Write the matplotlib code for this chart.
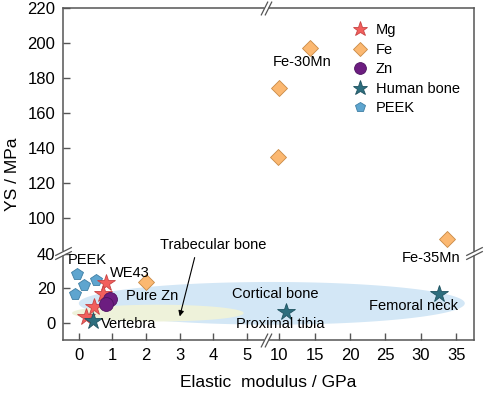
import numpy as np
import matplotlib
matplotlib.use('Agg')
import matplotlib.pyplot as plt
from matplotlib.transforms import offset_copy, blended_transform_factory

plt.rcParams['font.family'] = ['Liberation Sans', 'DejaVu Sans']

# data (x = elastic modulus / GPa, y = YS / MPa)
mg_x = [0.80, 0.72, 0.45, 0.21]
mg_y = [23.0, 16.8, 9.1, 3.6]
fe_x = [2.0, 9.8, 10.0, 14.3, 33.7]
fe_y = [23.5, 135, 174, 197, 88]
zn_x = [0.93, 0.82]
zn_y = [13.8, 11.0]
bone_x = [0.41, 11.0, 32.5]
bone_y = [1.2, 6.3, 17.0]
peek_x = [-0.05, 0.15, -0.12, 0.50]
peek_y = [28.4, 21.7, 17.0, 25.0]

cortical_x = (0.0, 36.2)
cortical_y = (-0.7, 23.7)
trabecular_x = (-0.2, 4.9)
trabecular_y = (1.1, 10.7)

xticks = [0, 1, 2, 3, 4, 5, 10, 15, 20, 25, 30, 35]
yticks = [0, 20, 40, 100, 120, 140, 160, 180, 200, 220]


# broken axes as piecewise-linear scales
def fx(x):
    x = np.asarray(x, float)
    return np.where(x <= 5, x, np.where(x < 10, 5 + (x - 5) * 0.1904,
                                        5.952 + (x - 10) * 0.2107))


def fx_inv(u):
    u = np.asarray(u, float)
    return np.where(u <= 5, u, np.where(u < 5.952, 5 + (u - 5) / 0.1904,
                                        10 + (u - 5.952) / 0.2107))


def fy(y):
    y = np.asarray(y, float)
    return np.where(y <= 40, y, np.where(y < 80, 40 + (y - 40) * 0.0125,
                                         y - 39.5))


def fy_inv(v):
    v = np.asarray(v, float)
    return np.where(v <= 40, v, np.where(v < 40.5, 40 + (v - 40) / 0.0125,
                                         v + 39.5))


fig = plt.figure(figsize=(4.84, 3.93), dpi=100)
ax = fig.add_axes([63 / 484, 53 / 393, 411 / 484, 332 / 393])
ax.set_xscale('function', functions=(fx, fx_inv))
ax.set_yscale('function', functions=(fy, fy_inv))
ax.set_xlim(-0.47, 37.5)
ax.set_ylim(-9.5, 220)


def ellipse(xr, yr):
    # ellipse drawn in the scaled (display-like) space
    u0, u1 = fx(xr)
    v0, v1 = fy(yr)
    t = np.linspace(0, 2 * np.pi, 300)
    u = (u0 + u1) / 2 + (u1 - u0) / 2 * np.cos(t)
    v = (v0 + v1) / 2 + (v1 - v0) / 2 * np.sin(t)
    return fx_inv(u), fy_inv(v)


ex, ey = ellipse(cortical_x, cortical_y)
ax.fill(ex, ey, color='#d3e7f6', lw=0, zorder=1)
ex, ey = ellipse(trabecular_x, trabecular_y)
ax.fill(ex, ey, color='#eef2da', lw=0, zorder=1.1)

ax.plot(peek_x, peek_y, 'p', ms=8.5, mfc='#5ea5cf', mec='#3f7ea3', mew=0.6, ls='none', label='PEEK', zorder=3)
ax.plot(mg_x, mg_y, '*', ms=13, mfc='#f25f5c', mec='#c84444', mew=0.6, ls='none', label='Mg', zorder=3)
ax.plot(fe_x, fe_y, 'D', ms=8, mfc='#fbb871', mec='#c98a45', mew=0.6, ls='none', label='Fe', zorder=3)
ax.plot(zn_x, zn_y, 'o', ms=10, mfc='#6c1d80', mec='#4d1260', mew=0.6, ls='none', label='Zn', zorder=3)
ax.plot(bone_x, bone_y, '*', ms=13, mfc='#2d6e7e', mec='#1f5260', mew=0.6, ls='none', label='Human bone', zorder=3)

fs = 10.5
ax.text(-0.33, 36.2, 'PEEK', fontsize=fs, va='center')
ax.text(0.92, 28.7, 'WE43', fontsize=fs, va='center')
ax.text(1.40, 15.5, 'Pure Zn', fontsize=fs, va='center')
ax.text(0.66, -0.6, 'Vertebra', fontsize=fs, va='center')
ax.text(4.55, 16.7, 'Cortical bone', fontsize=fs, va='center')
ax.text(4.67, -0.6, 'Proximal tibia', fontsize=fs, va='center')
ax.text(22.7, 9.8, 'Femoral neck', fontsize=fs, va='center')
ax.text(13.3, 188.9, 'Fe-30Mn', fontsize=fs, va='center', ha='center')
ax.text(31.5, 37.4, 'Fe-35Mn', fontsize=fs, va='center', ha='center')
ax.annotate('Trabecular bone', xy=(3.0, 4.0), xytext=(3.99, 84.3), fontsize=fs,
            ha='center', va='center',
            arrowprops=dict(arrowstyle='-|>', color='black', lw=0.8,
                            mutation_scale=8, shrinkA=2, shrinkB=0,
                            relpos=(0.34, 0)))

ax.set_xticks(xticks)
ax.set_xticklabels([str(t) for t in xticks])
ax.set_yticks(yticks)
ax.set_yticklabels([str(t) for t in yticks])
ax.minorticks_off()
ax.tick_params(direction='in', length=5, width=1, color='#555555',
               labelsize=12, pad=5.5)
for s in ax.spines.values():
    s.set_color('#555555')
    s.set_linewidth(1.1)
ax.set_xlabel('Elastic  modulus / GPa', fontsize=12.5, labelpad=9)
ax.set_ylabel('YS / MPa', fontsize=12.5, labelpad=5)

# axis break marks
def brk(x, y, trans, along):
    if along == 'y':
        mk, ms = [(-1, -0.5), (1, 0.5)], 12
    else:
        mk, ms = [(-0.5, -1), (0.5, 1)], 10
    ax.plot([x], [y], transform=trans, marker='s', ms=3, mfc='white', mec='none',
            ls='none', clip_on=False, zorder=5)
    for d in (-2.2, 2.2):
        t = offset_copy(trans, fig=fig, x=d if along == 'x' else 0,
                        y=d if along == 'y' else 0, units='dots')
        ax.plot([x], [y], transform=t, marker=mk, ms=ms, color='#555555',
                mew=0.9, ls='none', clip_on=False, zorder=6)


ty = blended_transform_factory(ax.transAxes, ax.transData)
tx = blended_transform_factory(ax.transData, ax.transAxes)
brk(0, 60, ty, 'y')
brk(1, 60, ty, 'y')
brk(8, 0, tx, 'x')
brk(8, 1, tx, 'x')

h, l = ax.get_legend_handles_labels()
order = [1, 2, 3, 4, 0]
ax.legend([h[i] for i in order], [l[i] for i in order], loc='upper left',
          bbox_to_anchor=(345 / 484, 1 - 16 / 393), bbox_transform=fig.transFigure,
          frameon=False, fontsize=fs, handlelength=1.0, handletextpad=0.6,
          labelspacing=0.38, borderpad=0, markerscale=0.85)

fig.savefig('out.png', dpi=100)
